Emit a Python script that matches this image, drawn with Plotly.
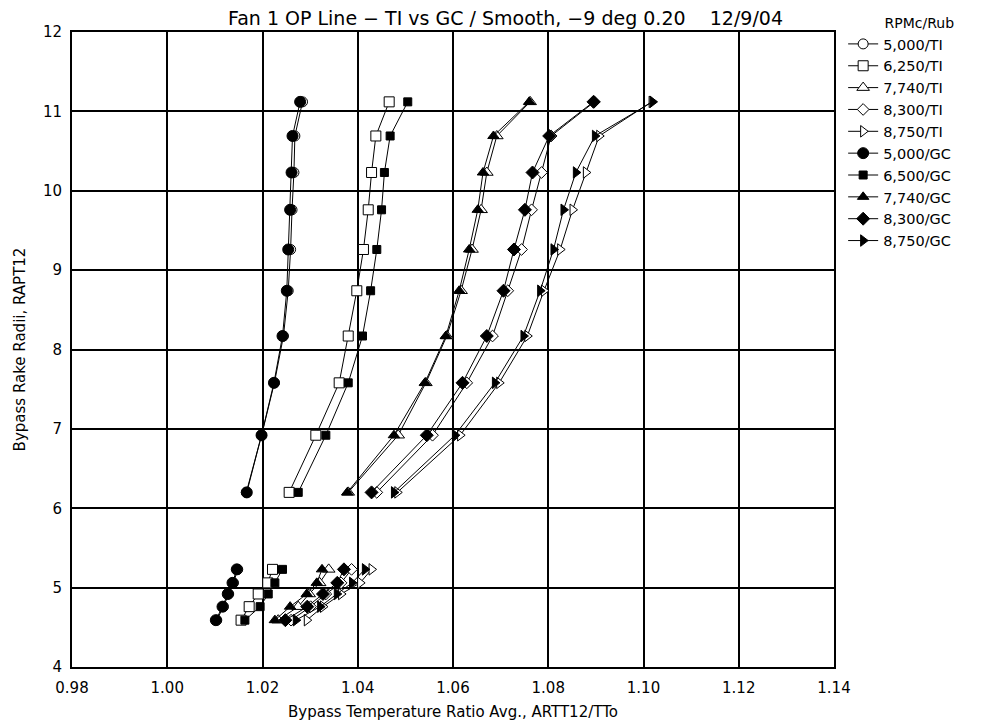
import plotly.graph_objects as go

# Radial stations (rake radii)
y_upper = [6.20, 6.92, 7.58, 8.17, 8.74, 9.26, 9.76, 10.23, 10.69, 11.12]
y_lower = [4.59, 4.76, 4.92, 5.06, 5.23]

# Bypass temperature ratio, TI series
ti_5000_up = [1.0166, 1.0198, 1.0225, 1.0244, 1.0254, 1.0259, 1.0262, 1.0266, 1.0268, 1.0284]
ti_5000_lo = [1.0104, 1.0118, 1.0129, 1.0139, 1.0148]
ti_6250_up = [1.0256, 1.0312, 1.0361, 1.0380, 1.0398, 1.0412, 1.0422, 1.0429, 1.0438, 1.0466]
ti_6250_lo = [1.0155, 1.0172, 1.0191, 1.0211, 1.0221]
ti_7740_up = [1.0380, 1.0485, 1.0543, 1.0587, 1.0617, 1.0640, 1.0659, 1.0671, 1.0692, 1.0762]
ti_7740_lo = [1.0233, 1.0275, 1.0298, 1.0320, 1.0339]
ti_8300_up = [1.0440, 1.0557, 1.0629, 1.0683, 1.0715, 1.0744, 1.0765, 1.0786, 1.0806, 1.0897]
ti_8300_lo = [1.0260, 1.0301, 1.0333, 1.0365, 1.0387]
ti_8750_up = [1.0483, 1.0615, 1.0697, 1.0756, 1.0791, 1.0825, 1.0851, 1.0879, 1.0907, 1.1017]
ti_8750_lo = [1.0293, 1.0327, 1.0365, 1.0405, 1.0429]

# Bypass temperature ratio, GC series
gc_5000_up = [1.0167, 1.0198, 1.0224, 1.0242, 1.0251, 1.0254, 1.0258, 1.0261, 1.0263, 1.0279]
gc_5000_lo = [1.0102, 1.0116, 1.0127, 1.0137, 1.0146]
gc_6500_up = [1.0275, 1.0333, 1.0380, 1.0410, 1.0427, 1.0440, 1.0450, 1.0456, 1.0468, 1.0505]
gc_6500_lo = [1.0163, 1.0195, 1.0212, 1.0226, 1.0242]
gc_7740_up = [1.0378, 1.0476, 1.0541, 1.0585, 1.0613, 1.0634, 1.0652, 1.0663, 1.0685, 1.0760]
gc_7740_lo = [1.0226, 1.0258, 1.0293, 1.0314, 1.0325]
gc_8300_up = [1.0429, 1.0545, 1.0620, 1.0671, 1.0706, 1.0728, 1.0751, 1.0767, 1.0802, 1.0895]
gc_8300_lo = [1.0248, 1.0294, 1.0327, 1.0357, 1.0371]
gc_8750_up = [1.0476, 1.0604, 1.0688, 1.0748, 1.0783, 1.0811, 1.0832, 1.0858, 1.0898, 1.1019]
gc_8750_lo = [1.0270, 1.0321, 1.0356, 1.0388, 1.0415]

series_names = ["5,000/TI", "6,250/TI", "7,740/TI", "8,300/TI", "8,750/TI",
                "5,000/GC", "6,500/GC", "7,740/GC", "8,300/GC", "8,750/GC"]
series_lo = [ti_5000_lo, ti_6250_lo, ti_7740_lo, ti_8300_lo, ti_8750_lo,
             gc_5000_lo, gc_6500_lo, gc_7740_lo, gc_8300_lo, gc_8750_lo]
series_up = [ti_5000_up, ti_6250_up, ti_7740_up, ti_8300_up, ti_8750_up,
             gc_5000_up, gc_6500_up, gc_7740_up, gc_8300_up, gc_8750_up]
symbols = ["circle", "square", "triangle-up", "diamond", "triangle-right"] * 2
sizes_ti = [10, 10, 11, 9, 10]
sizes_gc = [11, 8, 10, 10, 10]

x_ticks = [0.98, 1.00, 1.02, 1.04, 1.06, 1.08, 1.10, 1.12, 1.14]
y_ticks = [4, 5, 6, 7, 8, 9, 10, 11, 12]

FONT = "DejaVu Sans"

fig = go.Figure()
for i, name in enumerate(series_names):
    filled = i >= 5
    size = sizes_gc[i - 5] if filled else sizes_ti[i]
    fig.add_trace(go.Scatter(
        x=series_lo[i] + [None] + series_up[i],
        y=y_lower + [None] + y_upper,
        mode="lines+markers",
        name=name,
        connectgaps=False,
        line=dict(color="black", width=1),
        marker=dict(symbol=symbols[i], size=size,
                    color="black" if filled else "white",
                    line=dict(color="black", width=1)),
    ))

fig.update_layout(
    width=992, height=726,
    margin=dict(l=72, r=158, t=32, b=59, autoexpand=False),
    paper_bgcolor="white", plot_bgcolor="white",
    font=dict(family=FONT, color="black", size=15),
    showlegend=True,
    legend=dict(
        title=dict(text="RPMc/Rub", font=dict(size=14, family=FONT), side="top right"),
        x=1.012, y=1.035, xanchor="left", yanchor="top",
        font=dict(size=14.5, family=FONT),
        itemwidth=30, tracegroupgap=0,
        bgcolor="rgba(0,0,0,0)",
    ),
    annotations=[dict(
        text="Fan 1 OP Line \u2212 TI vs GC / Smooth, \u22129 deg 0.20\u00a0\u00a0\u00a0\u00a012/9/04",
        xref="paper", yref="paper", x=0.5 + (506 - 453) / 762, y=1.0,
        xanchor="center", yanchor="bottom", yshift=1,
        showarrow=False, font=dict(size=19, family=FONT),
    )],
)
fig.update_xaxes(
    range=[0.98, 1.14], tickvals=x_ticks,
    ticktext=[f"{v:.2f}" for v in x_ticks],
    showgrid=True, gridcolor="black", gridwidth=1.5,
    showline=True, linecolor="black", linewidth=2, mirror=True,
    zeroline=False, ticks="", ticklen=0, ticklabelstandoff=6,
    tickfont=dict(size=15, family=FONT),
    title=dict(text="Bypass Temperature Ratio Avg., ARTT12/TTo",
               font=dict(size=15, family=FONT), standoff=10),
)
fig.update_yaxes(
    range=[4, 12], tickvals=y_ticks,
    ticktext=[str(v) for v in y_ticks],
    showgrid=True, gridcolor="black", gridwidth=1.5,
    showline=True, linecolor="black", linewidth=2, mirror=True,
    zeroline=False, ticks="", ticklen=0, ticklabelstandoff=5,
    tickfont=dict(size=15, family=FONT),
    title=dict(text="Bypass Rake Radii, RAPT12",
               font=dict(size=15, family=FONT), standoff=14),
)

fig.write_html("out.html")
